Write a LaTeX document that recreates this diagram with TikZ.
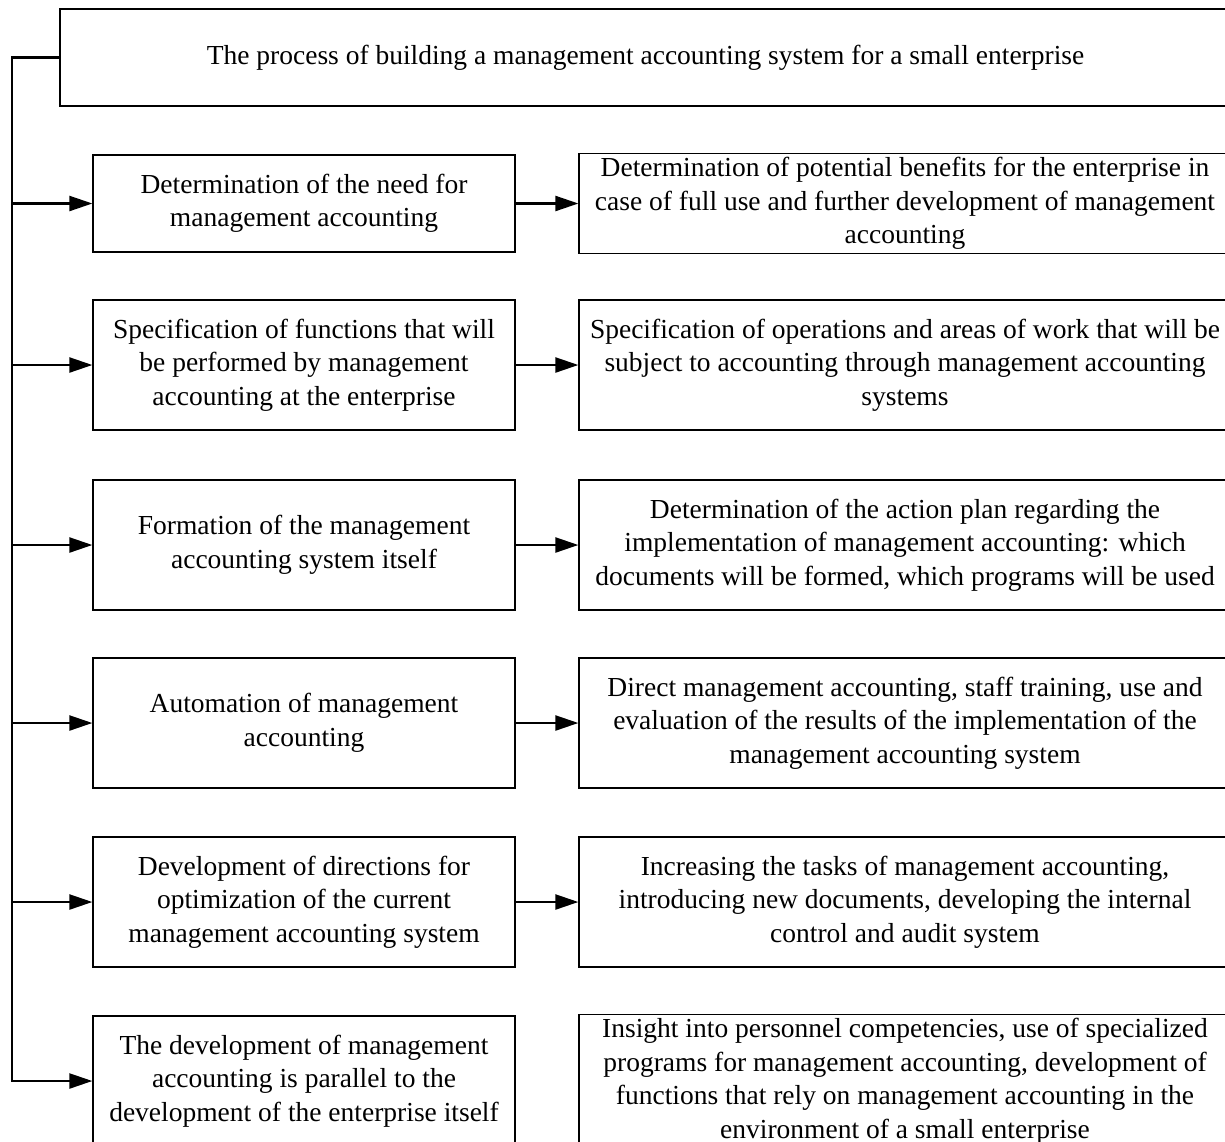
\documentclass[tikz,border=0pt]{standalone}
\usepackage{fontspec}
\setmainfont{Liberation Serif}
\usetikzlibrary{arrows.meta}
\begin{document}
\begin{tikzpicture}[x=1pt,y=-1pt,
  box/.style={draw=black,line width=1.3pt,align=center,inner sep=4pt,
    font=\fontsize{27.5}{33.5}\selectfont},
  leftbox/.style={box,minimum width=422pt,minimum height=130pt},
  rightbox/.style={box,minimum width=652pt,minimum height=130pt},
  conn/.style={line width=2.3pt},
  arr/.style={conn,-{Triangle[length=23pt,width=15pt]}}]
\useasboundingbox (0,0) rectangle (1225,1141);
\fill[white] (0,0) rectangle (1225,1141);

\node[box,minimum width=1171pt,minimum height=97pt] (top) at (645.5,57.5)
  {The process of building a management accounting system for a small enterprise};

\node[leftbox,minimum height=97pt] (l1) at (304,203.5)
  {Determination of the need for\\management accounting};
\node[rightbox,minimum height=97pt] (r1) at (905,203.5)
  {Determination of potential benefits for the enterprise in\\case of full use and further development of management\\accounting};

\node[leftbox] (l2) at (304,365)
  {Specification of functions that will\\be performed by management\\accounting at the enterprise};
\node[rightbox] (r2) at (905,365)
  {Specification of operations and areas of work that will be\\subject to accounting through management accounting\\systems};

\node[leftbox] (l3) at (304,545)
  {Formation of the management\\accounting system itself};
\node[rightbox] (r3) at (905,545)
  {Determination of the action plan regarding the\\implementation of management accounting: which\\documents will be formed, which programs will be used};

\node[leftbox] (l4) at (304,723)
  {Automation of management\\accounting};
\node[rightbox] (r4) at (905,723)
  {Direct management accounting, staff training, use and\\evaluation of the results of the implementation of the\\management accounting system};

\node[leftbox] (l5) at (304,902)
  {Development of directions for\\optimization of the current\\management accounting system};
\node[rightbox] (r5) at (905,902)
  {Increasing the tasks of management accounting,\\introducing new documents, developing the internal\\control and audit system};

\node[leftbox] (l6) at (304,1081)
  {The development of management\\accounting is parallel to the\\development of the enterprise itself};
\node[rightbox] (r6) at (905,1081)
  {Insight into personnel competencies, use of specialized\\programs for management accounting, development of\\functions that rely on management accounting in the\\environment of a small enterprise};

\coordinate (trunk) at (12,57.5);
\draw[arr] (top.west) -- (trunk) |- (l6.west);
\foreach \i in {1,...,5}{
  \draw[arr] (trunk |- l\i.west) -- (l\i.west);
  \draw[arr] (l\i.east) -- (r\i.west);
}
\end{tikzpicture}
\end{document}
